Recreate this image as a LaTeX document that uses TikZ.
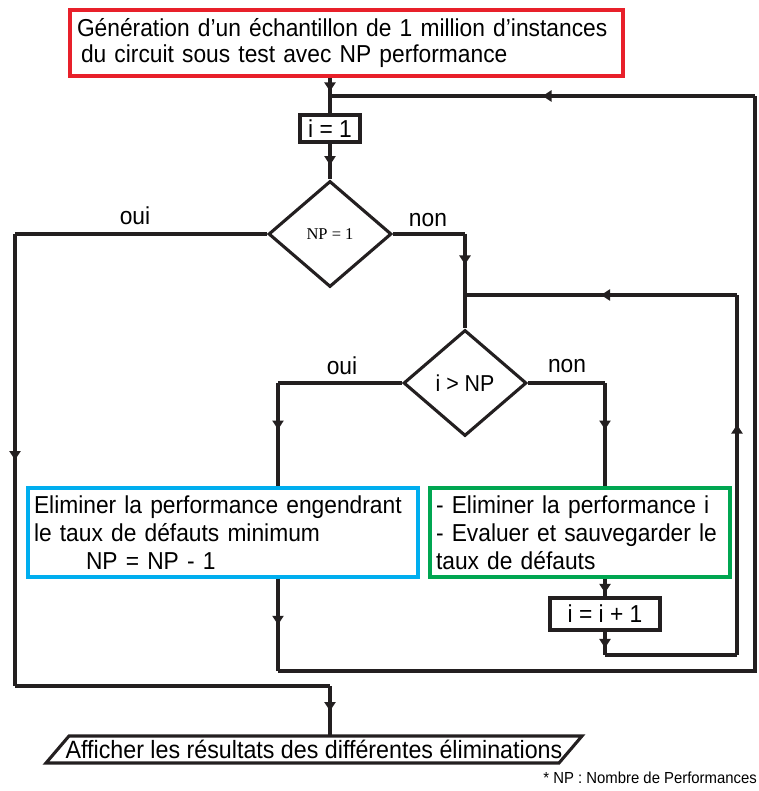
\documentclass[tikz,border=0pt]{standalone}
\usepackage{fontspec}
\setmainfont{Liberation Sans}[FakeStretch=0.93]
\newfontfamily\serifnp{Liberation Serif}
\usetikzlibrary{shapes.geometric,arrows.meta,decorations.markings}
\definecolor{lineblack}{RGB}{35,31,32}
\definecolor{boxred}{RGB}{232,32,42}
\definecolor{boxblue}{RGB}{0,174,239}
\definecolor{boxgreen}{RGB}{0,166,81}
\tikzset{
  ln/.style={line width=3.1pt, draw=lineblack},
  midarr/.style={postaction={decorate}, decoration={markings, mark=at position #1 with {\arrow{Triangle[length=9pt,width=11pt]}}}},
  midarr/.default=0.5,
  bigbox/.style={rectangle, line width=3.1pt, inner xsep=6pt, inner ysep=0pt, align=left, font=\fontsize{24.5}{28}\selectfont},
  smallbox/.style={rectangle, draw=lineblack, line width=3.1pt, inner sep=0pt, font=\fontsize{24.5}{28}\selectfont},
  decision/.style={diamond, draw=lineblack, line width=3.1pt, inner sep=0pt, minimum width=123pt, minimum height=106pt},
  lbl/.style={font=\fontsize{24.5}{28}\selectfont, inner sep=0pt},
}
\begin{document}
\begin{tikzpicture}[x=1pt,y=-1pt]
\useasboundingbox (0,0) rectangle (758,791);
% nodes
\node[bigbox, draw=boxred, minimum width=553pt, minimum height=66pt, text width=539pt, inner xsep=7pt, font=\fontsize{24.5}{26}\selectfont] (gen) at (346.5,43)
  {Génération d’un échantillon de 1 million d’instances\\\hspace*{4pt}du circuit sous test avec NP performance};
\node[smallbox, minimum width=60pt, minimum height=27pt] (i1) at (330,128.5) {i = 1};
\node[decision] (d1) at (330,234) {\serifnp\fontsize{16.5}{18}\selectfont NP = 1};
\node[decision] (d2) at (465,383) {\fontsize{23}{26}\selectfont i > NP};
\node[bigbox, draw=boxblue, minimum width=390pt, minimum height=89pt, text width=378pt] (elimA) at (223,532.5)
  {Eliminer la performance engendrant\\le taux de défauts minimum\\\hspace*{52pt}NP = NP - 1};
\node[bigbox, draw=boxgreen, minimum width=300pt, minimum height=89pt, text width=288pt] (elimB) at (580,532.5)
  {- Eliminer la performance i\\- Evaluer et sauvegarder le\\taux de défauts};
\node[smallbox, minimum width=110pt, minimum height=32pt] (i2) at (605,614) {i = i + 1};
\node[inner sep=0pt, minimum height=28pt, minimum width=480pt, font=\fontsize{25}{28}\selectfont] (out) at (314,749.5)
  {Afficher les résultats des différentes éliminations};
\draw[ln] (69,736) -- (582,736) -- (559,763) -- (46,763) -- cycle;
\node[anchor=east, inner sep=0pt, font=\fontsize{16}{19}\selectfont] (note) at (757,778) {* NP : Nombre de Performances};
% labels
\node[lbl] (oui1) at (135,216) {oui};
\node[lbl] (non1) at (428,220) {non};
\node[lbl] (oui2) at (342,366) {oui};
\node[lbl] (non2) at (567,366) {non};
% coordinates
\coordinate (j1) at (330,96);
\coordinate (j2) at (465,295);
\coordinate (c1) at (15,234);
\coordinate (c2) at (15,686);
\coordinate (c3) at (330,686);
\coordinate (c4) at (465,234);
\coordinate (c5) at (278,383);
\coordinate (c6) at (605,383);
\coordinate (c7) at (605,655);
\coordinate (c8) at (737,655);
\coordinate (c9) at (737,295);
\coordinate (c10) at (278,671);
\coordinate (c11) at (755,671);
\coordinate (c12) at (755,96);
\coordinate (outtop) at (330,736);
% connectors
\draw[ln, midarr=0.75] (gen.south -| j1) -- (j1);
\draw[ln] (j1) -- (i1.north);
\draw[ln, midarr=0.6] (i1.south) -- (d1.north);
\draw[ln] (d1.west) -- (c1);
\draw[ln, midarr] (c1) -- (c2);
\draw[ln] (c2) -- (c3);
\draw[ln, midarr] (c3) -- (outtop);
\draw[ln] (d1.east) -- (c4);
\draw[ln, midarr] (c4) -- (j2);
\draw[ln] (j2) -- (d2.north);
\draw[ln] (d2.west) -- (c5);
\draw[ln, midarr=0.45] (c5) -- (elimA.north -| c5);
\draw[ln] (d2.east) -- (c6);
\draw[ln, midarr=0.45] (c6) -- (elimB.north -| c6);
\draw[ln, midarr=0.8] (elimB.south -| c6) -- (i2.north);
\draw[ln, midarr=0.7] (i2.south) -- (c7);
\draw[ln] (c7) -- (c8);
\draw[ln, midarr=0.64] (c8) -- (c9);
\draw[ln, midarr] (c9) -- (j2);
\draw[ln, midarr] (elimA.south -| c10) -- (c10);
\draw[ln] (c10) -- (c11) -- (c12);
\draw[ln, midarr] (c12) -- (j1);
\end{tikzpicture}
\end{document}
